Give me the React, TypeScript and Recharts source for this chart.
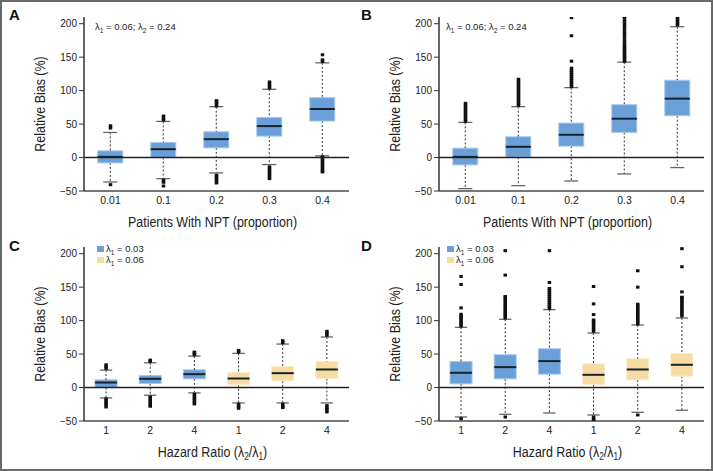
import React from 'react'
import { ComposedChart, Bar, Scatter, XAxis, YAxis, ReferenceLine } from 'recharts'

const FONT = "'Liberation Sans', Arial, sans-serif"
const BLUE = '#6b9fd8'
const YELLOW = '#f6dca3'
const TITLE_SQUEEZE = 0.83

// y axis ticks shared by all four panels
const yTicks = [-50, 0, 50, 100, 150, 200]

// Panel A
const catsA = ['0.01', '0.1', '0.2', '0.3', '0.4']
const loA = [-36.5, -31.5, -23, -10.5, 2.5]
const q1A = [-8, 0, 14.5, 32, 54.5]
const medA = [1, 12.5, 27.5, 47, 72.5]
const q3A = [10, 22.5, 38.5, 60, 89.5]
const hiA = [37.5, 54, 76, 102, 141.5]
const outA = [
  [44, 47.5, -40.5],
  [56, 59, 62, -34, -37, -42.5],
  [77, 80, 83, 85, -26.5, -29, -32, -35, -38],
  [104, 107, 110, 113, -14, -17, -20, -23, -26, -29, -31.5],
  [143.5, 146, 153.5, 1, -2, -5, -8, -11, -14, -17, -20, -21.5],
]

// Panel B
const loB = [-46.5, -42, -35, -24.5, -15]
const q1B = [-11, 0.5, 17, 37.5, 62.5]
const medB = [1, 16, 34, 58, 88]
const q3B = [14, 31, 51.5, 79, 115.5]
const hiB = [52.5, 76, 104.5, 142.5, 195.5]
const outB = [
  [54, 57, 60, 63, 66, 69, 72, 75, 78, 81],
  [78, 81, 84, 87, 90, 93, 96, 99, 102, 105, 108, 111, 114, 117],
  [106, 109, 112, 115, 118, 121, 124, 127, 130, 133.5, 144, 182, 209],
  [144, 147, 150, 153, 156, 159, 162, 165, 168, 172, 176, 180, 184, 188, 192, 196, 200, 204, 208, 211],
  [198, 201, 204, 207, 210],
]

// Panels C and D (hazard ratio, two lambda_1 groups)
const catsCD = ['b1', 'b2', 'b4', 'y1', 'y2', 'y4']
const labelsCD = ['1', '2', '4', '1', '2', '4']
const colorsCD = [BLUE, BLUE, BLUE, YELLOW, YELLOW, YELLOW]

const loC = [-15.5, -11.5, -8, -23, -23, -23]
const q1C = [0, 6, 13, 4, 10, 13.5]
const medC = [7.5, 13, 20, 13.5, 21.5, 27]
const q3C = [11.5, 18, 26.5, 22.5, 31.5, 39]
const hiC = [26, 37, 47, 51, 65, 75.5]
const outC = [
  [28.5, 31.5, 34, -17, -20, -23, -26, -29],
  [39, 41, -14, -17, -20, -23, -26, -28],
  [49, 51.5, 53, -10, -13, -16, -19, -22, -24.5],
  [53, 55.5, -25, -28, -31],
  [67, 70, -25, -28, -30],
  [78, 81, 84, -27, -30, -33, -36.5],
]

const loD = [-44, -40, -38, -41, -37, -34]
const q1D = [5.5, 13, 20, 4.5, 11.5, 17]
const medD = [22, 30.5, 39.5, 19, 27, 34]
const q3D = [39, 49, 58, 35.5, 43, 51]
const hiD = [90, 102, 116.5, 81.5, 93.5, 104]
const outD = [
  [92, 95, 98, 101, 104, 107, 109.5, 119, 154, 166, -46.5],
  [104, 107, 110, 113, 116, 119, 122, 125, 128, 131, 134, 136, 168, 204.5, -44],
  [118, 121, 124, 127, 130, 133, 136, 139, 142, 145, 148, 157, 204.5],
  [84, 87, 90, 93, 96, 99, 101, 109, 125, 151, -44, -47, -49.5],
  [95, 98, 101, 104, 107, 110, 113, 116, 119, 122, 124.5, 150, 174.5, -41],
  [107, 110, 113, 116, 119, 122, 125, 128, 131, 134, 135, 143, 180.5, 207.5],
]

function makeRows(keys: string[], lo: number[], q1: number[], med: number[], q3: number[], hi: number[], colors: string[]) {
  return keys.map((k, i) => ({
    cat: k,
    base: lo[i],
    w1: q1[i] - lo[i],
    b1: med[i] - q1[i],
    b2: q3[i] - med[i],
    w2: hi[i] - q3[i],
    color: colors[i],
  }))
}

function makeOutliers(keys: string[], out: number[][]) {
  return keys.flatMap((k, i) => out[i].map((v) => ({ cat: k, v })))
}

const outline = (c: string) => (c === BLUE ? '#a9c8ec' : '#fbeccd')

const Empty = () => <g />

const LowWhisker = (p: any) => {
  const cx = p.x + p.width / 2
  const top = Math.min(p.y, p.y + p.height)
  const bot = Math.max(p.y, p.y + p.height)
  const cap = p.width * 0.28
  return (
    <g>
      <line x1={cx} x2={cx} y1={top} y2={bot} stroke="#333" strokeDasharray="2 2" />
      <line x1={cx - cap} x2={cx + cap} y1={bot} y2={bot} stroke="#666" strokeWidth={1.3} />
    </g>
  )
}

const HighWhisker = (p: any) => {
  const cx = p.x + p.width / 2
  const top = Math.min(p.y, p.y + p.height)
  const bot = Math.max(p.y, p.y + p.height)
  const cap = p.width * 0.28
  return (
    <g>
      <line x1={cx} x2={cx} y1={top} y2={bot} stroke="#333" strokeDasharray="2 2" />
      <line x1={cx - cap} x2={cx + cap} y1={top} y2={top} stroke="#666" strokeWidth={1.3} />
    </g>
  )
}

const BoxLow = (p: any) => {
  const top = Math.min(p.y, p.y + p.height)
  const h = Math.abs(p.height)
  const c = p.payload.color
  return <rect x={p.x} y={top} width={p.width} height={h} fill={c} stroke={outline(c)} strokeWidth={1} />
}

const BoxHigh = (p: any) => {
  const top = Math.min(p.y, p.y + p.height)
  const bot = Math.max(p.y, p.y + p.height)
  const c = p.payload.color
  return (
    <g>
      <rect x={p.x} y={top} width={p.width} height={bot - top} fill={c} stroke={outline(c)} strokeWidth={1} />
      <line x1={p.x} x2={p.x + p.width} y1={bot} y2={bot} stroke="#17222d" strokeWidth={2} />
    </g>
  )
}

const Dot = (p: any) => <rect x={p.cx - 1.75} y={p.cy - 1.5} width={3.5} height={3} fill="#111" />

type PanelProps = {
  rows: any[]
  outliers: any[]
  xTitle: React.ReactNode
  tickLabel?: (v: string) => string
  gap: string
}

function Panel({ rows, outliers, xTitle, tickLabel, gap }: PanelProps) {
  return (
    <ComposedChart
      width={355}
      height={235}
      data={rows}
      margin={{ top: 17, right: 6, bottom: 0, left: 0 }}
      barCategoryGap={gap}
    >
      <XAxis
        dataKey="cat"
        type="category"
        allowDuplicatedCategory={false}
        height={44}
        tickLine={false}
        tickSize={0}
        tickMargin={6}
        axisLine={{ stroke: '#777', strokeWidth: 2 }}
        tick={{ fontSize: 10.5, fill: '#222', fontFamily: FONT }}
        tickFormatter={tickLabel}
        label={(lp: any) => {
          const vb = lp.viewBox
          const cx = vb.x + vb.width / 2 - 4
          const cy = vb.y + vb.height - 8
          return (
            <g transform={`translate(${cx}, ${cy}) scale(${TITLE_SQUEEZE}, 1)`}>
              <text x={0} y={0} textAnchor="middle" fontSize={15} fill="#222" fontFamily={FONT}>
                {xTitle}
              </text>
            </g>
          )
        }}
      />
      <YAxis
        type="number"
        domain={[-50, 210]}
        ticks={yTicks}
        allowDataOverflow
        width={84}
        tickSize={5}
        tickMargin={2}
        axisLine={{ stroke: '#333', strokeWidth: 1.5 }}
        tickLine={{ stroke: '#333' }}
        tick={{ fontSize: 10, fill: '#222', fontFamily: FONT }}
        tickFormatter={(v: number) => (v < 0 ? '\u2212' + Math.abs(v) : String(v))}
        label={(lp: any) => {
          const vb = lp.viewBox
          const cx = vb.x + vb.width / 2 - 2
          const cy = vb.y + vb.height / 2
          return (
            <g transform={`translate(${cx}, ${cy}) rotate(-90) scale(${TITLE_SQUEEZE}, 1)`}>
              <text x={0} y={0} textAnchor="middle" dominantBaseline="central" fontSize={15} fill="#222" fontFamily={FONT}>
                Relative Bias (%)
              </text>
            </g>
          )
        }}
      />
      <ReferenceLine y={0} stroke="#222" strokeWidth={1.5} />
      <Bar dataKey="base" stackId="box" shape={Empty} isAnimationActive={false} />
      <Bar dataKey="w1" stackId="box" shape={LowWhisker} isAnimationActive={false} />
      <Bar dataKey="b1" stackId="box" shape={BoxLow} isAnimationActive={false} />
      <Bar dataKey="b2" stackId="box" shape={BoxHigh} isAnimationActive={false} />
      <Bar dataKey="w2" stackId="box" shape={HighWhisker} isAnimationActive={false} />
      <Scatter data={outliers} dataKey="v" shape={Dot} isAnimationActive={false} />
    </ComposedChart>
  )
}

const rowsA = makeRows(catsA, loA, q1A, medA, q3A, hiA, catsA.map(() => BLUE))
const rowsB = makeRows(catsA, loB, q1B, medB, q3B, hiB, catsA.map(() => BLUE))
const rowsC = makeRows(catsCD, loC, q1C, medC, q3C, hiC, colorsCD)
const rowsD = makeRows(catsCD, loD, q1D, medD, q3D, hiD, colorsCD)

const hrLabel = (v: string) => labelsCD[catsCD.indexOf(v)] ?? v

const hrTitle = (
  <>
    <tspan>Hazard Ratio (λ</tspan>
    <tspan fontSize={10} dy={3}>2</tspan>
    <tspan dy={-3}>/λ</tspan>
    <tspan fontSize={10} dy={3}>1</tspan>
    <tspan dy={-3}>)</tspan>
  </>
)

const letterStyle: React.CSSProperties = {
  position: 'absolute',
  fontFamily: "'Liberation Sans', Arial, sans-serif",
  fontWeight: 'bold',
  fontSize: 15,
  lineHeight: '15px',
  color: '#111',
}

const smallStyle: React.CSSProperties = {
  position: 'absolute',
  fontFamily: FONT,
  fontSize: 9.5,
  lineHeight: '11px',
  color: '#222',
  whiteSpace: 'nowrap',
}

const subStyle: React.CSSProperties = { fontSize: 6.5, verticalAlign: 'sub' }

const Lambda = ({ i }: { i: string }) => (
  <>
    λ<span style={subStyle}>{i}</span>
  </>
)

function LegendCD({ left, top }: { left: number; top: number }) {
  return (
    <>
      <div style={{ position: 'absolute', left, top, width: 7, height: 6, background: BLUE }} />
      <div style={{ ...smallStyle, left: left + 9, top: top - 3 }}>
        <Lambda i="1" /> = 0.03
      </div>
      <div style={{ position: 'absolute', left, top: top + 11, width: 7, height: 6, background: YELLOW }} />
      <div style={{ ...smallStyle, left: left + 9, top: top + 8 }}>
        <Lambda i="1" /> = 0.06
      </div>
    </>
  )
}

export default function App() {
  return (
    <div style={{ position: 'absolute', left: 0, top: 0, width: 714, height: 471, background: '#fff' }}>
      <div
        style={{
          position: 'absolute',
          left: 0,
          top: 0,
          width: 713,
          height: 471,
          boxSizing: 'border-box',
          border: '2px solid #6a6a6a',
        }}
      />
      <div style={{ position: 'absolute', left: 0, top: 0 }}>
        <Panel rows={rowsA} outliers={makeOutliers(catsA, outA)} xTitle="Patients With NPT (proportion)" gap="26%" />
      </div>
      <div style={{ position: 'absolute', left: 355, top: 0 }}>
        <Panel rows={rowsB} outliers={makeOutliers(catsA, outB)} xTitle="Patients With NPT (proportion)" gap="26%" />
      </div>
      <div style={{ position: 'absolute', left: 0, top: 230 }}>
        <Panel rows={rowsC} outliers={makeOutliers(catsCD, outC)} xTitle={hrTitle} tickLabel={hrLabel} gap="25%" />
      </div>
      <div style={{ position: 'absolute', left: 355, top: 230 }}>
        <Panel rows={rowsD} outliers={makeOutliers(catsCD, outD)} xTitle={hrTitle} tickLabel={hrLabel} gap="25%" />
      </div>

      <div style={{ ...letterStyle, left: 9, top: 7 }}>A</div>
      <div style={{ ...letterStyle, left: 361, top: 7 }}>B</div>
      <div style={{ ...letterStyle, left: 9, top: 238 }}>C</div>
      <div style={{ ...letterStyle, left: 361, top: 238 }}>D</div>

      <div style={{ ...smallStyle, left: 95, top: 21 }}>
        <Lambda i="1" /> = 0.06; <Lambda i="2" /> = 0.24
      </div>
      <div style={{ ...smallStyle, left: 446, top: 21 }}>
        <Lambda i="1" /> = 0.06; <Lambda i="2" /> = 0.24
      </div>

      <LegendCD left={97} top={246} />
      <LegendCD left={447} top={246} />
    </div>
  )
}
